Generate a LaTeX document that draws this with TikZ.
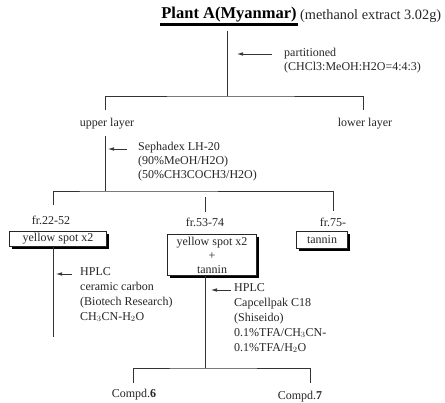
\documentclass[tikz,border=0pt]{standalone}
\usepackage{fontspec}
\setmainfont{Liberation Serif}
\usetikzlibrary{arrows.meta,shadows,positioning}

\tikzset{
	lbl/.style={font=\fontsize{12}{14}\selectfont, inner sep=1pt, text=black!85},
	cond/.style={lbl, align=left, anchor=north west},
	flow/.style={draw=black!80, line width=0.7pt},
	hint/.style={draw=black!80, line width=0.7pt, -{Latex[length=6pt,width=3.5pt]}},
	spotbox/.style={lbl, draw=black!85, line width=0.6pt, fill=white, inner xsep=4pt, inner ysep=2pt,
		drop shadow={shadow xshift=2.5pt, shadow yshift=-2.5pt, fill=black, opacity=1}}
}

\begin{document}
\begin{tikzpicture}[x=1pt,y=-1pt]
		\useasboundingbox[fill=white] (0,0) rectangle (445,403);

		% title
		\node[font=\bfseries\fontsize{16.5}{18}\selectfont, inner sep=1pt] (plant) at (229,15) {Plant A(Myanmar)};
		\draw[line width=2.6pt] ([yshift=-1pt]plant.south west) -- ([yshift=-1pt]plant.south east);
		\node[lbl, font=\fontsize{14.3}{16}\selectfont, anchor=west] (extract) at (299,16) {(methanol extract 3.02g)};

		% partition
		\coordinate (split1) at (227,96);
		\node[lbl, anchor=west] (part) at (283,54) {partitioned};
		\node[cond, anchor=north west] (solv) at (part.south west) {(CHCl3:MeOH:H2O=4:4:3)};
		\node[lbl] (upper) at (107,124) {upper layer};
		\node[lbl] (lower) at (365,124) {lower layer};

		\draw[flow] ([yshift=-7pt]plant.south -| split1) -- (split1);
		\draw[flow] ([xshift=-2pt,yshift=7pt]upper.north) |- (split1) -| ([xshift=-2pt,yshift=7pt]lower.north);
		\draw[hint, shorten >=10pt] ([xshift=-11pt]part.west) -- (part.west -| split1);

		% sephadex
		\coordinate (split2) at (105,191);
		\node[cond] (seph) at (137,141) {Sephadex LH-20\\(90\%MeOH/H2O)\\(50\%CH3COCH3/H2O)};
		\node[lbl] (fr1) at (51,220) {fr.22-52};
		\node[lbl] (fr2) at (205,222) {fr.53-74};
		\node[lbl] (fr3) at (333,222) {fr.75-};

		\draw[flow] ([yshift=-5pt]upper.south -| split2) -- (split2);
		\draw[flow] ([xshift=2pt,yshift=9pt]fr1.north) |- (split2) -| ([yshift=5pt]fr3.north);
		\draw[flow] ([yshift=4pt]fr2.north) -- ([yshift=19pt]fr2.north);
		\draw[hint, shorten >=3pt] ([xshift=-10pt,yshift=-8pt]seph.north west) -- ([yshift=-8pt]seph.north west -| split2);

		% fractions
		\node[spotbox, minimum width=97pt] (spot1) at (58,239) {yellow spot x2};
		\node[spotbox, minimum width=89pt, align=center] (spot2) at (212,255) {yellow spot x2\\+\\tannin};
		\node[spotbox, minimum width=51pt, minimum height=17pt] (spot3) at (322,240) {tannin};

		% HPLC of fr.22-52
		\coordinate (end1) at (53,337);
		\node[cond, font=\fontsize{12}{15}\selectfont] (hplc1) at (79,266) {HPLC\\ceramic carbon\\(Biotech Research)\\CH$_3$CN-H$_2$O};
		\draw[flow] (spot1.south -| end1) -- (end1);
		\draw[hint, shorten >=3pt] ([xshift=-7pt,yshift=-8pt]hplc1.north west) -- ([yshift=-8pt]hplc1.north west -| end1);

		% HPLC of fr.53-74
		\coordinate (split3) at (205,368);
		\node[cond, font=\fontsize{12}{15}\selectfont] (hplc2) at (233,282) {HPLC\\Capcellpak C18\\(Shiseido)\\0.1\%TFA/CH$_3$CN-\\0.1\%TFA/H$_2$O};
		\node[lbl] (cpd6) at (134,395) {Compd.\textbf{6}};
		\node[lbl] (cpd7) at (300,397) {Compd.\textbf{7}};

		\draw[flow] (spot2.south -| split3) -- (split3);
		\draw[flow] ([xshift=-1pt,yshift=5pt]cpd6.north) |- (split3) -| ([xshift=10pt,yshift=7pt]cpd7.north);
		\draw[hint, shorten >=6pt] ([xshift=-2pt,yshift=-8pt]hplc2.north west) -- ([yshift=-8pt]hplc2.north west -| split3);
	\end{tikzpicture}
\end{document}
